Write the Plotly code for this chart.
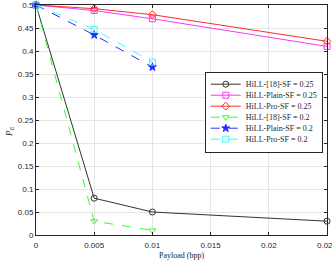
import plotly.graph_objects as go

x4 = [0, 0.005, 0.01, 0.025]
x3 = [0, 0.005, 0.01]
hill18_025 = [0.5, 0.08, 0.05, 0.03]
plain_025 = [0.5, 0.488, 0.47, 0.41]
pro_025 = [0.5, 0.492, 0.479, 0.421]
hill18_02 = [0.5, 0.03, 0.01]
plain_02 = [0.5, 0.435, 0.365]
pro_02 = [0.5, 0.447, 0.376]

xticks = [0, 0.005, 0.01, 0.015, 0.02, 0.025]
xticklabels = ["0", "0.005", "0.01", "0.015", "0.02", "0.025"]
yticks = [0, 0.05, 0.1, 0.15, 0.2, 0.25, 0.3, 0.35, 0.4, 0.45, 0.5]
yticklabels = ["0", "0.05", "0.1", "0.15", "0.2", "0.25", "0.3", "0.35", "0.4", "0.45", "0.5"]

series = [
    ("HiLL-[18]-SF = 0.25", x4, hill18_025, "#333333", "solid", "circle-open"),
    ("HiLL-Plain-SF = 0.25", x4, plain_025, "#ff33ff", "solid", "square-open"),
    ("HiLL-Pro-SF = 0.25", x4, pro_025, "#ff2a2a", "solid", "diamond-open"),
    ("HiLL-[18]-SF = 0.2", x3, hill18_02, "#33ff33", "dash", "triangle-down-open"),
    ("HiLL-Plain-SF = 0.2", x3, plain_02, "#2a2aff", "dash", "star"),
    ("HiLL-Pro-SF = 0.2", x3, pro_02, "#33ffff", "dash", "square-open"),
]

fig = go.Figure()
for name, xs, ys, c, dash, sym in series:
    fig.add_trace(go.Scatter(
        x=xs, y=ys, name=name, mode="lines+markers",
        line=dict(color=c, width=1, dash=dash),
        marker=dict(symbol=sym, size=6, color=c, line=dict(color=c, width=1)),
        cliponaxis=False,
    ))

axis_common = dict(
    showline=True, linecolor="#262626", linewidth=1, mirror="ticks",
    ticks="inside", ticklen=3, tickcolor="#262626",
    showgrid=True, gridcolor="#e6e6e6", gridwidth=1, zeroline=False,
    tickfont=dict(family="Liberation Sans, Arial", size=8, color="#262626"),
    automargin=False, ticklabeloverflow="allow",
)
fig.update_xaxes(range=[0, 0.025], tickvals=xticks, ticktext=xticklabels, ticklabelstandoff=2, **axis_common)
fig.update_yaxes(range=[0, 0.5], tickvals=yticks, ticktext=yticklabels, **axis_common)

fig.update_layout(
    width=332, height=262,
    margin=dict(l=36, r=5, t=5, b=27),
    paper_bgcolor="white", plot_bgcolor="white",
    legend=dict(x=0.58, y=0.71, xanchor="left", yanchor="top",
                bgcolor="white", bordercolor="#262626", borderwidth=1,
                font=dict(family="Liberation Serif, Times New Roman", size=8, color="#262626"),
                tracegroupgap=0, itemwidth=30),
    showlegend=True,
    annotations=[
        dict(text="Payload (bpp)", xref="paper", yref="paper", x=0.5, y=-0.09,
             xanchor="center", yanchor="middle", showarrow=False,
             font=dict(family="Liberation Serif, Times New Roman", size=8, color="#262626")),
        dict(text="<i>P<sub>E</sub></i>", xref="paper", yref="paper", x=-0.065, y=0.45,
             xanchor="right", yanchor="middle", showarrow=False, textangle=-90,
             font=dict(family="Liberation Serif, Times New Roman", size=9, color="#262626")),
    ],
)

post = """
document.body.style.margin='0';document.body.style.padding='0';document.body.style.overflow='hidden';
var gd=document.getElementById('{plot_id}');
var tr=gd.querySelectorAll('.legend .traces');
var y0=null, step=11;
tr.forEach(function(t,i){
  var m=t.getAttribute('transform').match(/translate\\(([-\\d.e]+),\\s*([-\\d.e]+)\\)/);
  if(!m) return;
  if(y0===null) y0=parseFloat(m[2])-3;
  t.setAttribute('transform','translate('+m[1]+','+(y0+i*step)+')');
});
var bg=gd.querySelector('.legend rect.bg');
if(bg && y0!==null){ bg.setAttribute('height', 2*y0 + (tr.length-1)*step); }
"""
fig.write_html("out.html", config={"staticPlot": True}, post_script=post)
